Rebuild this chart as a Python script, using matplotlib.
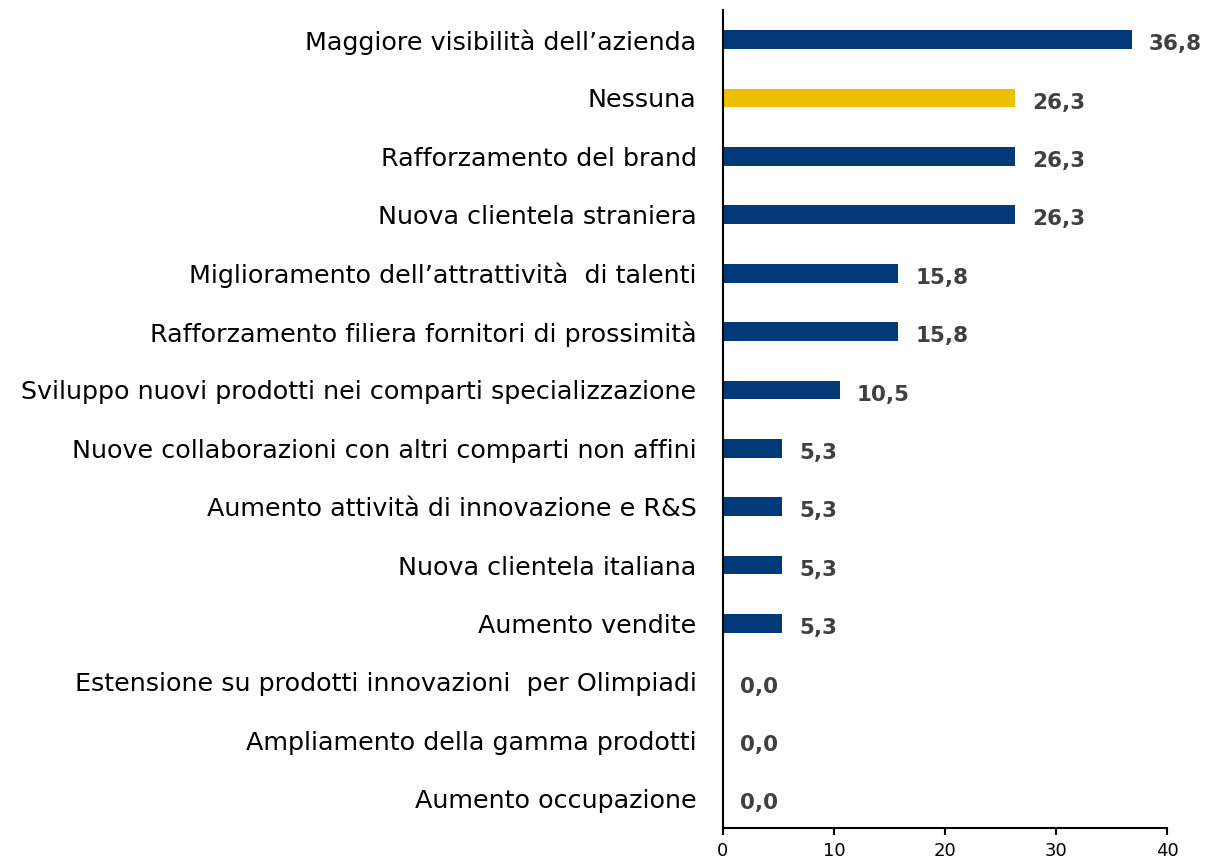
import matplotlib.pyplot as plt
import numpy as np

# dati
categorie = [
    "Maggiore visibilità dell\u2019azienda",
    "Nessuna",
    "Rafforzamento del brand",
    "Nuova clientela straniera",
    "Miglioramento dell\u2019attrattività  di talenti",
    "Rafforzamento filiera fornitori di prossimità",
    "Sviluppo nuovi prodotti nei comparti specializzazione",
    "Nuove collaborazioni con altri comparti non affini",
    "Aumento attività di innovazione e R&S",
    "Nuova clientela italiana",
    "Aumento vendite",
    "Estensione su prodotti innovazioni  per Olimpiadi",
    "Ampliamento della gamma prodotti",
    "Aumento occupazione",
]
valori = [36.8, 26.3, 26.3, 26.3, 15.8, 15.8, 10.5, 5.3, 5.3, 5.3, 5.3, 0.0, 0.0, 0.0]
evidenzia = ["Nessuna"]

blu = '#023A79'
giallo = '#EBC000'
colori = [giallo if c in evidenzia else blu for c in categorie]

plt.rcParams['font.family'] = ['DejaVu Sans']

fig = plt.figure(figsize=(12.11, 8.66), dpi=100)
ax = fig.add_axes([0.597, 0.044, 0.3667, 0.944])

y = np.arange(len(categorie))
ax.barh(y, valori, height=0.32, color=colori)

for yi, v in zip(y, valori):
    ax.text(v + 1.55, yi + 0.08, f"{v:.1f}".replace('.', ','), va='center', ha='left',
            fontsize=15.5, fontweight='bold', color='#404040')

ax.set_yticks(y)
ax.set_yticklabels(categorie, fontsize=18.3)
ax.tick_params(axis='y', length=0, pad=19)
ax.set_ylim(len(categorie) - 0.5, -0.5)

ax.set_xlim(0, 40)
ax.set_xticks([0, 10, 20, 30, 40])
ax.tick_params(axis='x', labelsize=13, length=5, width=1.5, direction='out', pad=5)

ax.spines['top'].set_visible(False)
ax.spines['right'].set_visible(False)
ax.spines['left'].set_linewidth(1.5)
ax.spines['bottom'].set_linewidth(1.5)

fig.savefig('out.png', dpi=100)
